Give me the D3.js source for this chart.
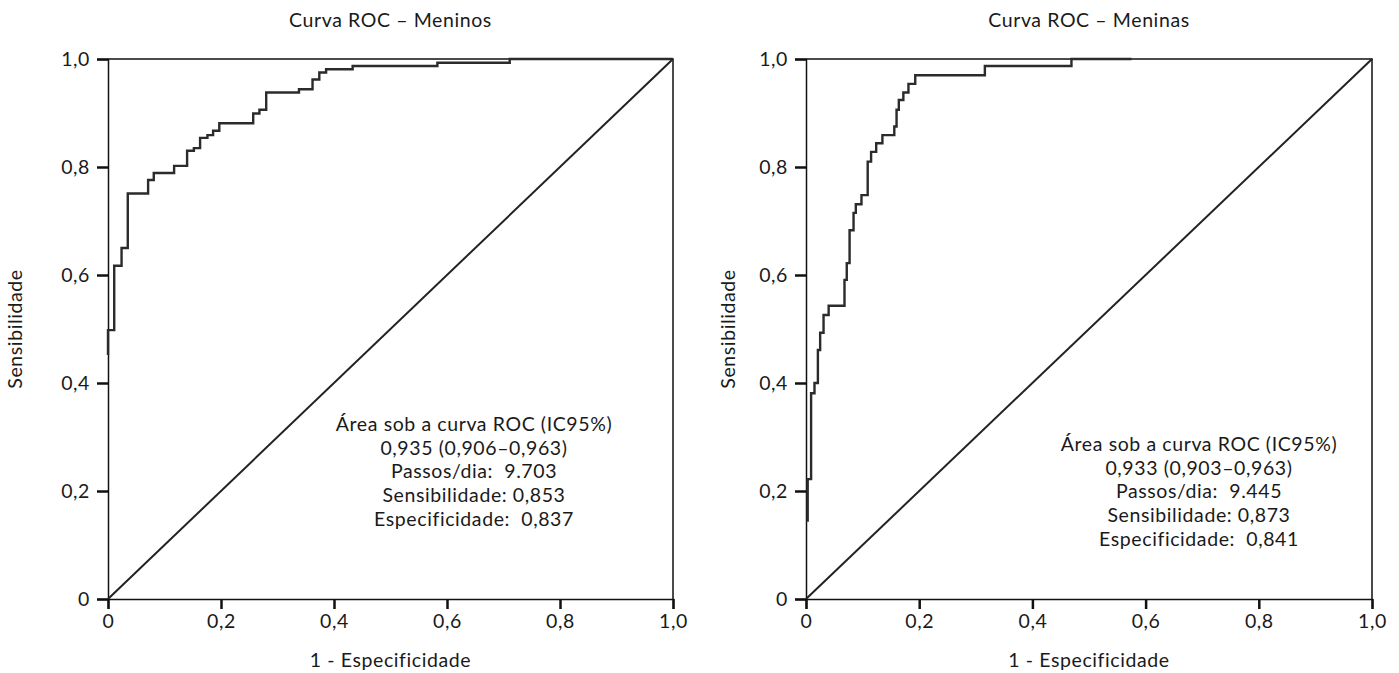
<!DOCTYPE html>
<html>
<head>
<meta charset="utf-8">
<script src="https://cdn.jsdelivr.net/npm/d3@7/dist/d3.min.js"></script>
<style>
  body { margin: 0; background: #fff; }
  svg text { font-family: Lato, "Open Sans", sans-serif; fill: #1a1a1a; white-space: pre; letter-spacing: 0.6px; }
</style>
</head>
<body>
<svg id="chart" width="1399" height="673"></svg>
<script>
// ROC step curves: [1 - especificidade, sensibilidade]
const meninosRoc = [
  [0, 0.452], [0, 0.498], [0.011, 0.617], [0.024, 0.650], [0.035, 0.751],
  [0.071, 0.776], [0.081, 0.789], [0.117, 0.802], [0.140, 0.830], [0.152, 0.835],
  [0.163, 0.854], [0.176, 0.859], [0.186, 0.867], [0.197, 0.881], [0.257, 0.899],
  [0.268, 0.906], [0.280, 0.938], [0.338, 0.944], [0.362, 0.962], [0.374, 0.975],
  [0.386, 0.981], [0.433, 0.987], [0.583, 0.993], [0.711, 1.0], [1.0, 1.0]
]
const meninasRoc = [
  [0.003, 0.143], [0.003, 0.222], [0.009, 0.381], [0.015, 0.400], [0.021, 0.461],
  [0.025, 0.493], [0.031, 0.526], [0.040, 0.543], [0.068, 0.591], [0.072, 0.622],
  [0.077, 0.683], [0.084, 0.715], [0.088, 0.731], [0.098, 0.748], [0.109, 0.810],
  [0.115, 0.828], [0.124, 0.844], [0.135, 0.859], [0.156, 0.875], [0.160, 0.906],
  [0.164, 0.924], [0.172, 0.938], [0.181, 0.954], [0.193, 0.970], [0.316, 0.987],
  [0.469, 1.0], [0.575, 1.0]
]
const tickValues = [0, 0.2, 0.4, 0.6, 0.8, 1.0]
const tickLabels = ['0', '0,2', '0,4', '0,6', '0,8', '1,0']
const titles = ['Curva ROC – Meninos', 'Curva ROC – Meninas']
const xTitle = '1 - Especificidade'
const yTitle = 'Sensibilidade'
const notesMeninos = [
  'Área sob a curva ROC (IC95%)',
  '0,935 (0,906–0,963)',
  'Passos/dia:  9.703',
  'Sensibilidade: 0,853',
  'Especificidade:  0,837'
]
const notesMeninas = [
  'Área sob a curva ROC (IC95%)',
  '0,933 (0,903–0,963)',
  'Passos/dia:  9.445',
  'Sensibilidade: 0,873',
  'Especificidade:  0,841'
]

const svg = d3.select('#chart')
const fontSize = 19.5

function drawPanel (opts) {
  const { left, right, top, bottom, data, title, notes, noteX, noteY, yLabelX } = opts
  const x = d3.scaleLinear().domain([0, 1]).range([left, right])
  const y = d3.scaleLinear().domain([0, 1]).range([bottom, top])
  const g = svg.append('g')

  // frame (top + right)
  g.append('path')
    .attr('d', `M${x(0)},${y(1)}H${x(1)}V${y(0)}`)
    .attr('fill', 'none')
    .attr('stroke', '#111')
    .attr('stroke-width', 1.5)

  // axes
  const xAxis = d3.axisBottom(x)
    .tickValues(tickValues)
    .tickFormat((d, i) => tickLabels[i])
    .tickSize(10)
    .tickPadding(5)
  const yAxis = d3.axisLeft(y)
    .tickValues(tickValues)
    .tickFormat((d, i) => tickLabels[i])
    .tickSize(11)
    .tickPadding(7)

  const gx = g.append('g').attr('transform', `translate(0,${bottom})`).call(xAxis)
  const gy = g.append('g').attr('transform', `translate(${left},0)`).call(yAxis)
  for (const ax of [gx, gy]) {
    ax.select('.domain').attr('stroke', '#111').attr('stroke-width', 1.5)
    ax.selectAll('.tick line').attr('stroke', '#111').attr('stroke-width', 2.5)
    ax.selectAll('.tick text')
      .style('font-family', 'Lato, "Open Sans", sans-serif')
      .style('font-size', fontSize + 'px')
      .attr('fill', '#1a1a1a')
  }

  // diagonal reference
  g.append('line')
    .attr('x1', x(0)).attr('y1', y(0))
    .attr('x2', x(1)).attr('y2', y(1))
    .attr('stroke', '#222')
    .attr('stroke-width', 2)

  // ROC curve
  const line = d3.line()
    .x(d => x(d[0]))
    .y(d => y(d[1]))
    .curve(d3.curveStepAfter)
  g.append('path')
    .datum(data)
    .attr('d', line)
    .attr('fill', 'none')
    .attr('stroke', '#2b2b2b')
    .attr('stroke-width', 2.4)

  // titles
  const cx = (left + right) / 2
  g.append('text')
    .attr('x', cx).attr('y', 27)
    .attr('text-anchor', 'middle')
    .style('font-size', fontSize + 'px')
    .text(title)
  g.append('text')
    .attr('x', cx).attr('y', 667)
    .attr('text-anchor', 'middle')
    .style('font-size', fontSize + 'px')
    .text(xTitle)
  g.append('text')
    .attr('transform', `translate(${yLabelX},${(top + bottom) / 2}) rotate(-90)`)
    .attr('text-anchor', 'middle')
    .style('font-size', fontSize + 'px')
    .text(yTitle)

  // annotation block
  g.append('g')
    .selectAll('text')
    .data(notes)
    .join('text')
    .attr('x', noteX)
    .attr('y', (d, i) => noteY + i * 23.7)
    .attr('text-anchor', 'middle')
    .style('font-size', fontSize + 'px')
    .text(d => d)
}

drawPanel({
  left: 108, right: 673, top: 59, bottom: 599,
  data: meninosRoc, title: titles[0], notes: notesMeninos,
  noteX: 474, noteY: 431, yLabelX: 22
})
drawPanel({
  left: 806, right: 1372, top: 59, bottom: 599,
  data: meninasRoc, title: titles[1], notes: notesMeninas,
  noteX: 1199, noteY: 451, yLabelX: 735
})
</script>
</body>
</html>
